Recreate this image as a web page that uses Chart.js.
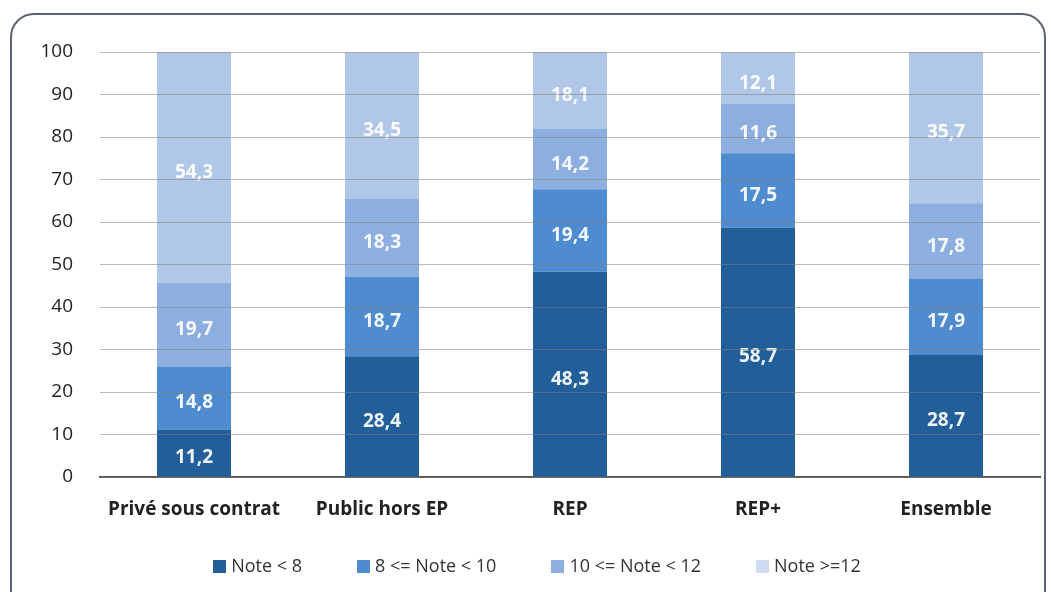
<!DOCTYPE html>
<html lang="fr">
<head>
<meta charset="utf-8">
<script src="https://cdn.jsdelivr.net/npm/chart.js@4/dist/chart.umd.min.js"></script>
<style>
  html, body { margin: 0; padding: 0; background: #fff; overflow: hidden; }
  #wrap { position: relative; width: 1051px; height: 592px; }
  #frame {
    position: absolute; left: 10px; top: 13px; width: 1036px; height: 620px;
    border: 2px solid #5b6275; border-radius: 24px; box-sizing: border-box;
  }
  #chart { position: absolute; left: 0; top: 0; }
</style>
</head>
<body>
<div id="wrap">
  <div id="frame"></div>
  <canvas id="chart" width="1051" height="592"></canvas>
</div>
<script>
// Répartition des notes par secteur (%)
const secteurs = ['Privé sous contrat', 'Public hors EP', 'REP', 'REP+', 'Ensemble'];
const noteMoins8 = [11.2, 28.4, 48.3, 58.7, 28.7];
const note8a10 = [14.8, 18.7, 19.4, 17.5, 17.9];
const note10a12 = [19.7, 18.3, 14.2, 11.6, 17.8];
const note12plus = [54.3, 34.5, 18.1, 12.1, 35.7];
const yTicks = [0, 10, 20, 30, 40, 50, 60, 70, 80, 90, 100];

const FONT = "'Open Sans', 'Noto Sans', sans-serif";

// --- valeurs écrites au centre de chaque segment ---
const segmentLabels = {
    id: 'segmentLabels',
    afterDatasetsDraw(chart) {
        const ctx = chart.ctx;
        ctx.save();
        ctx.font = `bold 19px ${FONT}`;
        ctx.fillStyle = 'rgba(255,255,255,0.93)';
        ctx.textAlign = 'center';
        ctx.textBaseline = 'middle';
        chart.data.datasets.forEach((ds, i) => {
            chart.getDatasetMeta(i).data.forEach((bar, j) => {
                const v = ds.data[j];
                const yc = (bar.y + bar.base) / 2;
                ctx.fillText(v.toFixed(1).replace('.', ','), bar.x, yc + 5);
            });
        });
        ctx.restore();
    }
};

// --- légende en bas : carré + texte, espacement serré ---
const bottomLegend = {
    id: 'bottomLegend',
    afterDraw(chart) {
        const ctx = chart.ctx;
        const cx = 537, cy = 566, box = 13, gap = 5, spacing = 55;
        ctx.save();
        ctx.font = `18px ${FONT}`;
        ctx.textBaseline = 'middle';
        const items = chart.data.datasets.map(d => ({
            text: d.label,
            color: d.legendColor || d.backgroundColor,
            w: box + gap + ctx.measureText(d.label).width
        }));
        const total = items.reduce((s, it) => s + it.w, 0) + spacing * (items.length - 1);
        let x = cx - total / 2;
        items.forEach(it => {
            ctx.fillStyle = it.color;
            ctx.fillRect(Math.round(x), cy - 6, box, box);
            ctx.fillStyle = '#333';
            ctx.fillText(it.text, x + box + gap, cy + 1);
            x += it.w + spacing;
        });
        ctx.restore();
    }
};

const ds = (label, data, color, legendColor) => ({
    label, data, backgroundColor: color, legendColor, borderWidth: 0,
    categoryPercentage: 1, barPercentage: 0.394
});

new Chart(document.getElementById('chart'), {
    type: 'bar',
    data: {
        labels: secteurs,
        datasets: [
            ds('Note < 8', noteMoins8, '#225f98'),
            ds('8 <= Note < 10', note8a10, '#4f8ccf'),
            ds('10 <= Note < 12', note10a12, '#8dafdf'),
            ds('Note >=12', note12plus, '#b0c7e8', '#cfdcf1')
        ]
    },
    options: {
        responsive: false,
        animation: false,
        layout: { padding: { top: 52, right: 11, left: 0, bottom: 55 } },
        plugins: {
            tooltip: { enabled: false },
            legend: { display: false }
        },
        scales: {
            x: {
                stacked: true,
                grid: { display: false },
                border: { color: '#555', width: 2 },
                ticks: { color: '#222', font: { family: FONT, size: 19, weight: 'bold' }, padding: 13 },
                afterFit: s => { s.height = 60; }
            },
            y: {
                stacked: true,
                min: 0, max: 100,
                afterBuildTicks: s => { s.ticks = yTicks.map(v => ({ value: v })); },
                grid: { color: 'rgba(130,130,130,0.55)', drawTicks: false, z: 1 },
                border: { display: false },
                ticks: { color: '#222', font: { family: FONT, size: 19 }, padding: 27 },
                afterFit: s => { s.width = 100; }
            }
        }
    },
    plugins: [segmentLabels, bottomLegend]
});
</script>
</body>
</html>
